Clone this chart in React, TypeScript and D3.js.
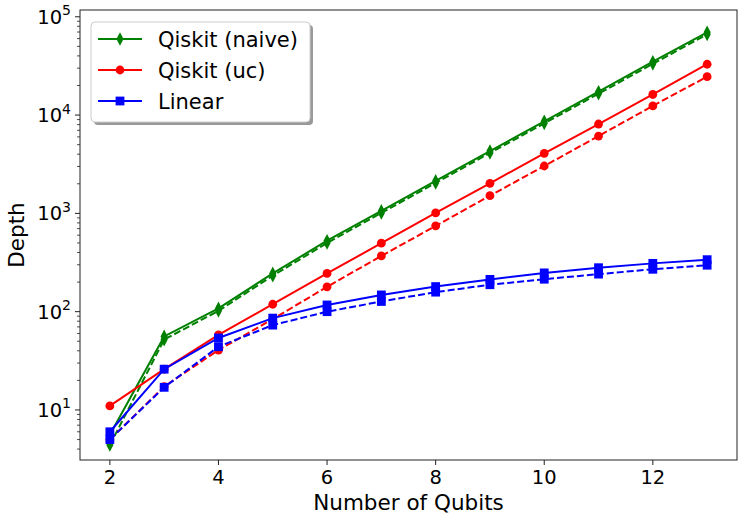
import * as d3 from "d3";

const qubits = [2, 3, 4, 5, 6, 7, 8, 9, 10, 11, 12, 13];
const naiveDepth = [5.6, 56, 108, 245, 527, 1060, 2140, 4310, 8640, 17300, 34900, 69500];
const naiveDepthAlt = [4.4, 52, 102, 232, 500, 1010, 2040, 4110, 8240, 16500, 33200, 66200];
const ucDepth = [11, 26, 58, 119, 245, 497, 1010, 2023, 4083, 8110, 16200, 32900];
const ucDepthAlt = [5, 17.3, 40.7, 84, 179, 369, 745, 1513, 3033, 6120, 12400, 24600];
const linearDepth = [6, 26, 54, 86, 117, 148, 180, 213, 248, 280, 310, 338];
const linearDepthAlt = [5, 17, 44, 73, 100, 127, 158, 188, 214, 241, 270, 297];

const xTicks = [2, 4, 6, 8, 10, 12];
const yDecades = [1, 2, 3, 4, 5];
const legendLabels = ["Qiskit (naive)", "Qiskit (uc)", "Linear"];

const W = 747;
const H = 523;
const plot = { left: 80, right: 737, top: 10, bottom: 460 };
const font = "DejaVu Sans, sans-serif";

type Marker = "diamond" | "circle" | "square";

const x = d3.scaleLinear().domain([1.45, 13.55]).range([plot.left, plot.right]);
const y = d3.scaleLog().domain([Math.pow(10, 0.491), Math.pow(10, 5.069)]).range([plot.bottom, plot.top]);

function MarkerShape({ kind, cx, cy, color }: { kind: Marker; cx: number; cy: number; color: string }) {
  if (kind === "circle") return <circle cx={cx} cy={cy} r={4.4} fill={color} />;
  if (kind === "square") return <rect x={cx - 4.4} y={cy - 4.4} width={8.8} height={8.8} fill={color} />;
  return (
    <path
      d={`M${cx},${cy - 6.8} L${cx + 3.6},${cy} L${cx},${cy + 6.8} L${cx - 3.6},${cy} Z`}
      fill={color}
    />
  );
}

const series = [
  { values: naiveDepth, color: "green", dash: "", marker: "diamond" as Marker },
  { values: naiveDepthAlt, color: "green", dash: "7,3", marker: "diamond" as Marker },
  { values: ucDepth, color: "red", dash: "", marker: "circle" as Marker },
  { values: ucDepthAlt, color: "red", dash: "7,3", marker: "circle" as Marker },
  { values: linearDepth, color: "blue", dash: "", marker: "square" as Marker },
  { values: linearDepthAlt, color: "blue", dash: "7,3", marker: "square" as Marker },
];

const legendItems = [
  { label: legendLabels[0], color: "green", marker: "diamond" as Marker },
  { label: legendLabels[1], color: "red", marker: "circle" as Marker },
  { label: legendLabels[2], color: "blue", marker: "square" as Marker },
];

export default function App() {
  const line = d3
    .line<number>()
    .x((_, i) => x(qubits[i]))
    .y((d) => y(d));

  // minor ticks on the log axis
  const [lo, hi] = y.domain();
  const minor: number[] = [];
  for (let e = 0; e <= 5; e++) {
    for (let m = 2; m <= 9; m++) {
      const v = m * Math.pow(10, e);
      if (v >= lo && v <= hi) minor.push(v);
    }
  }

  return (
    <svg width={W} height={H} style={{ position: "absolute", left: 0, top: 0, background: "white" }}>
      <defs>
        <clipPath id="plotArea">
          <rect x={plot.left} y={plot.top} width={plot.right - plot.left} height={plot.bottom - plot.top} />
        </clipPath>
      </defs>

      <g clipPath="url(#plotArea)">
        {series.map((s, i) => (
          <g key={i}>
            <path
              d={line(s.values) || ""}
              fill="none"
              stroke={s.color}
              strokeWidth={2}
              strokeDasharray={s.dash || undefined}
            />
            {s.values.map((v, j) => (
              <MarkerShape key={j} kind={s.marker} cx={x(qubits[j])} cy={y(v)} color={s.color} />
            ))}
          </g>
        ))}
      </g>

      {/* frame */}
      <rect
        x={plot.left}
        y={plot.top}
        width={plot.right - plot.left}
        height={plot.bottom - plot.top}
        fill="none"
        stroke="#222"
        strokeWidth={1}
      />

      {/* x axis */}
      {xTicks.map((t) => (
        <g key={t}>
          <line x1={x(t)} x2={x(t)} y1={plot.bottom} y2={plot.bottom + 5} stroke="#222" />
          <text x={x(t)} y={484} textAnchor="middle" fontFamily={font} fontSize={19.5}>
            {t}
          </text>
        </g>
      ))}
      <text x={(plot.left + plot.right) / 2} y={510} textAnchor="middle" fontFamily={font} fontSize={21.5}>
        Number of Qubits
      </text>

      {/* y axis */}
      {minor.map((v, i) => (
        <line key={i} x1={plot.left - 3} x2={plot.left} y1={y(v)} y2={y(v)} stroke="#222" strokeWidth={0.8} />
      ))}
      {yDecades.map((e) => (
        <g key={e}>
          <line x1={plot.left - 5} x2={plot.left} y1={y(Math.pow(10, e))} y2={y(Math.pow(10, e))} stroke="#222" />
          <text x={71} y={y(Math.pow(10, e)) + 7} textAnchor="end" fontFamily={font} fontSize={19.5}>
            10
            <tspan fontSize={14} dy={-8.5}>
              {e}
            </tspan>
          </text>
        </g>
      ))}
      <text
        transform={`translate(24, ${(plot.top + plot.bottom) / 2}) rotate(-90)`}
        textAnchor="middle"
        fontFamily={font}
        fontSize={21.5}
      >
        Depth
      </text>

      {/* legend */}
      <rect x={94} y={25} width={219} height={100} rx={4} fill="#999" />
      <rect x={91} y={22} width={219} height={100} rx={4} fill="white" stroke="#ccc" />
      {legendItems.map((it, i) => {
        const ly = 39 + i * 31;
        return (
          <g key={it.label}>
            <line x1={98} x2={142} y1={ly} y2={ly} stroke={it.color} strokeWidth={2} />
            <MarkerShape kind={it.marker} cx={120} cy={ly} color={it.color} />
            <text x={158} y={ly + 7.5} fontFamily={font} fontSize={21}>
              {it.label}
            </text>
          </g>
        );
      })}
    </svg>
  );
}
